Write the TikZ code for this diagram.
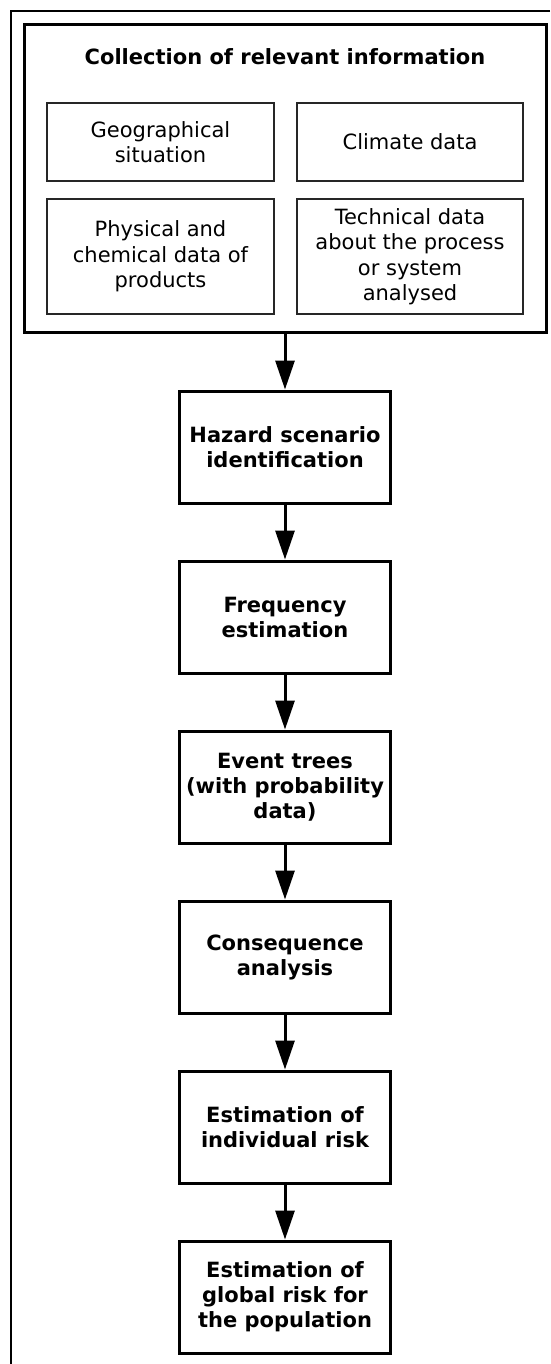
\documentclass[tikz,border=0pt]{standalone}
\usepackage{fontspec}
\setmainfont{DejaVu Sans}
\usepackage{tikz}
\usetikzlibrary{arrows.meta,positioning}

\begin{document}
\begin{tikzpicture}[x=1pt,y=-1pt,
    stagebox/.style={draw,line width=3pt,minimum width=211pt,minimum height=112pt,
      align=center,inner sep=0pt,font=\bfseries\fontsize{21}{25}\selectfont},
    databox/.style={draw,black!85,text=black,line width=1.3pt,align=center,
      inner sep=0pt,font=\fontsize{21}{25.5}\selectfont},
    flow/.style={line width=3pt,-{Triangle[length=29pt,width=19pt]}}]
  \useasboundingbox (0,0) rectangle (550,1364);
  \draw[line width=2pt] (550,11) -- (11,11) -- (11,1364);
  % information gathering block
  \node[draw,line width=3pt,minimum width=522pt,minimum height=307pt] (collect) at (285,178.5) {};
  \node[font=\bfseries\fontsize{21}{25}\selectfont] (title) at (285,57) {Collection of relevant information};
  \node[databox,minimum width=227pt,minimum height=78pt] (geo) at (160.5,142) {Geographical\\situation};
  \node[databox,minimum width=226pt,minimum height=78pt] (climate) at (410,142) {Climate data};
  \node[databox,minimum width=227pt,minimum height=115pt] (phys) at (160.5,256.5) {Physical and\\chemical data of\\products};
  \node[databox,minimum width=226pt,minimum height=115pt] (tech) at (410,256.5) {Technical data\\about the process\\or system\\analysed};
  % risk analysis chain
  \node[stagebox,below=56pt of collect] (hazard) {Hazard scenario\\identification};
  \node[stagebox,below=55pt of hazard] (freq) {Frequency\\estimation};
  \node[stagebox,below=55pt of freq] (event) {Event trees\\(with probability\\data)};
  \node[stagebox,below=55pt of event] (conseq) {Consequence\\analysis};
  \node[stagebox,below=55pt of conseq] (indiv) {Estimation of\\individual risk};
  \node[stagebox,below=55pt of indiv] (global) {Estimation of\\global risk for\\the population};
  \foreach \a/\b in {collect/hazard,hazard/freq,freq/event,event/conseq,conseq/indiv,indiv/global}
    \draw[flow] (\a) -- (\b);
\end{tikzpicture}
\end{document}
